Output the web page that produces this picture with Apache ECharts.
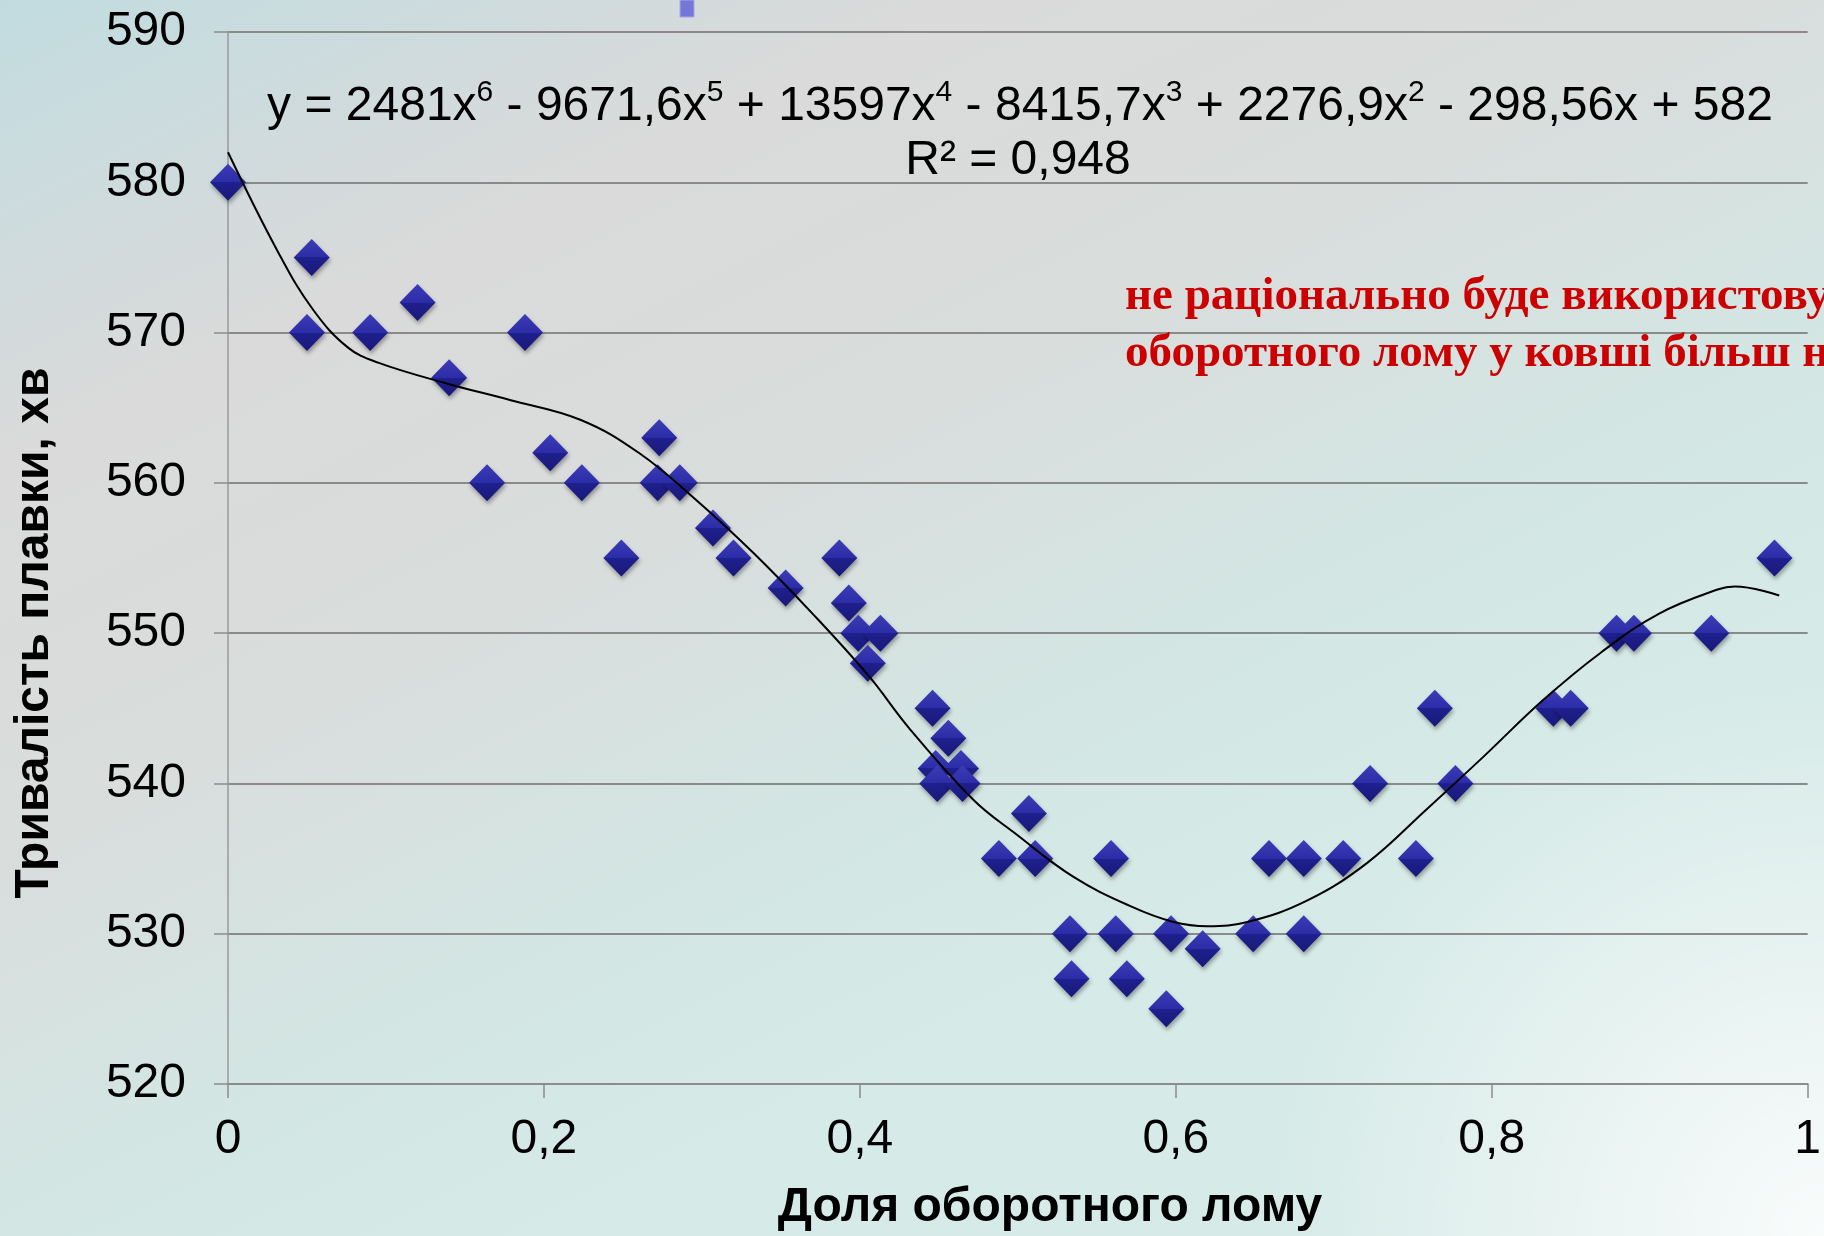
<!DOCTYPE html>
<html><head><meta charset="utf-8">
<script src="https://cdn.jsdelivr.net/npm/echarts@6/dist/echarts.min.js"></script>
<style>html,body{margin:0;padding:0;overflow:hidden;}#c{width:1824px;height:1236px;}</style>
</head><body><div id="c"></div>
<script>
// Measured points: share of return scrap vs melt duration, min
const shareX = [0.000,0.053,0.050,0.090,0.120,0.140,0.164,0.188,0.204,0.224,0.249,0.273,0.272,0.286,0.307,0.320,0.353,0.387,0.393,0.399,0.413,0.405,0.446,0.456,0.448,0.464,0.449,0.465,0.488,0.507,0.511,0.533,0.534,0.559,0.562,0.569,0.594,0.597,0.617,0.649,0.659,0.681,0.681,0.706,0.723,0.752,0.764,0.777,0.839,0.850,0.879,0.890,0.939,0.979];
const durationY = [580,575,570,570,572,567,560,570,562,560,555,563,560,560,557,555,553,555,552,550,550,548,545,543,541,541,540,540,535,538,535,530,527,535,530,527,525,530,529,530,535,535,530,535,540,535,545,540,545,545,550,550,550,555];
// Trend line
const trendX = [0.000,0.032,0.054,0.076,0.095,0.139,0.179,0.223,0.260,0.296,0.333,0.370,0.406,0.431,0.472,0.498,0.535,0.572,0.598,0.620,0.646,0.683,0.721,0.758,0.795,0.832,0.869,0.906,0.943,0.954,0.982];
const trendY = [582.0,575.3,571.5,569.0,568.0,566.6,565.5,564.2,562.0,558.9,555.3,551.3,547.1,543.7,538.9,536.7,533.8,531.8,530.8,530.5,530.8,532.2,534.7,538.2,541.8,545.5,548.7,551.3,552.9,553.1,552.5];
const xTickLabels = ['0','0,2','0,4','0,6','0,8','1'];
const yTickLabels = ['520','530','540','550','560','570','580','590'];
const xTitle = 'Доля оборотного лому';
const yTitle = 'Тривалість плавки, хв';
const eqParts = [['y = 2481x','6'],[' - 9671,6x','5'],[' + 13597x','4'],[' - 8415,7x','3'],[' + 2276,9x','2'],[' - 298,56x + 582','']];
const r2Text = 'R² = 0,948';
const noteLines = ['не раціонально буде використовувати', 'оборотного лому у ковші більш ніж'];

const scatterData = shareX.map((x, i) => [x, durationY[i]]);
const trendData = trendX.map((x, i) => [x, trendY[i]]);
const eqText = eqParts.map(p => '{m|' + p[0] + '}' + (p[1] ? '{s|' + p[1] + '}' : '')).join('');

const chart = echarts.init(document.getElementById('c'), null, {renderer: 'canvas', width: 1824, height: 1236});
const SANS = 'Liberation Sans, Arial, sans-serif';
const SERIF = 'Liberation Serif, Times New Roman, serif';
chart.setOption({
  animation: false,
  backgroundColor: {
    type: 'linear', x: 0, y: 0, x2: 0.33, y2: 1,
    colorStops: [
      {offset: 0, color: '#c1dce0'},
      {offset: 0.3, color: '#dadada'},
      {offset: 0.55, color: '#d9dddc'},
      {offset: 0.8, color: '#d3e6e3'},
      {offset: 1, color: '#d6eae7'}
    ]
  },
  grid: {left: 228, top: 32, width: 1587, height: 1052, containLabel: false},
  xAxis: {
    type: 'value', min: 0, max: 1, interval: 0.2,
    axisLine: {show: true, lineStyle: {color: '#8c8c8c', width: 2}},
    axisTick: {show: true, length: 14, lineStyle: {color: '#8c8c8c', width: 1.5}},
    axisLabel: {margin: 32, fontSize: 48, fontFamily: SANS, color: '#000',
      formatter: (v, i) => xTickLabels[i]},
    splitLine: {show: false}
  },
  yAxis: {
    type: 'value', min: 520, max: 590, interval: 10,
    axisLine: {show: true, onZero: false, lineStyle: {color: '#9a9a9a', width: 1.5}},
    axisTick: {show: true, length: 14, lineStyle: {color: '#8c8c8c', width: 1.5}},
    axisLabel: {margin: 42, fontSize: 48, fontFamily: SANS, color: '#000',
      formatter: (v, i) => yTickLabels[i]},
    splitLine: {show: true, lineStyle: {color: '#8a8a8a', width: 2}}
  },
  graphic: [
    {type: 'circle', z: -100, silent: true, shape: {cx: 1824, cy: 1236, r: 560},
     style: {fill: {type: 'radial', x: 0.5, y: 0.5, r: 0.5, colorStops: [
       {offset: 0, color: 'rgba(255,255,255,0.85)'},
       {offset: 1, color: 'rgba(255,255,255,0)'}]}}},
    {type: 'rect', silent: true, shape: {x: 680, y: 0, width: 14, height: 17},
     style: {fill: '#7676d8', stroke: '#a8a6e6', lineWidth: 1}},
    {type: 'text', silent: true, z: 10, style: {
      text: eqText, x: 1020, y: 107, align: 'center', verticalAlign: 'middle',
      rich: {
        m: {fontSize: 48, fontFamily: SANS, fill: '#000', lineHeight: 58},
        s: {fontSize: 30, fontFamily: SANS, fill: '#000', lineHeight: 30, verticalAlign: 'top'}
      }}},
    {type: 'text', silent: true, z: 10, style: {
      text: r2Text, x: 1018, y: 161, align: 'center', verticalAlign: 'middle',
      fontSize: 48, fontFamily: SANS, fill: '#000'}},
    {type: 'text', silent: true, z: 10, style: {
      text: noteLines[0], x: 1125, y: 297, align: 'left', verticalAlign: 'middle',
      fontSize: 47, fontWeight: 'bold', fontFamily: SERIF, fill: '#cc0000'}},
    {type: 'text', silent: true, z: 10, style: {
      text: noteLines[1], x: 1125, y: 354, align: 'left', verticalAlign: 'middle',
      fontSize: 47, fontWeight: 'bold', fontFamily: SERIF, fill: '#cc0000'}},
    {type: 'text', silent: true, z: 10, style: {
      text: xTitle, x: 1050, y: 1208, align: 'center', verticalAlign: 'middle',
      fontSize: 48, fontWeight: 'bold', fontFamily: SANS, fill: '#000'}},
    {type: 'text', silent: true, z: 10, x: 35, y: 633, rotation: Math.PI / 2, style: {
      text: yTitle, x: 0, y: 0, align: 'center', verticalAlign: 'middle',
      fontSize: 48, fontWeight: 'bold', fontFamily: SANS, fill: '#000'}}
  ],
  series: [
    {
      type: 'scatter', data: scatterData, symbol: 'diamond', symbolSize: [36, 37], z: 3,
      itemStyle: {
        opacity: 1,
        color: {type: 'linear', x: 0, y: 0, x2: 0, y2: 1, colorStops: [
          {offset: 0, color: '#3c3cb6'}, {offset: 0.5, color: '#2c2ca8'},
          {offset: 0.5, color: '#20208e'}, {offset: 1, color: '#18187a'}]},
        shadowColor: 'rgba(0,0,0,0.35)', shadowBlur: 4, shadowOffsetX: 1, shadowOffsetY: 3
      }
    },
    {
      type: 'line', data: trendData, smooth: 0.4, showSymbol: false, z: 5,
      lineStyle: {color: '#000', width: 2}
    }
  ]
});
</script></body></html>
